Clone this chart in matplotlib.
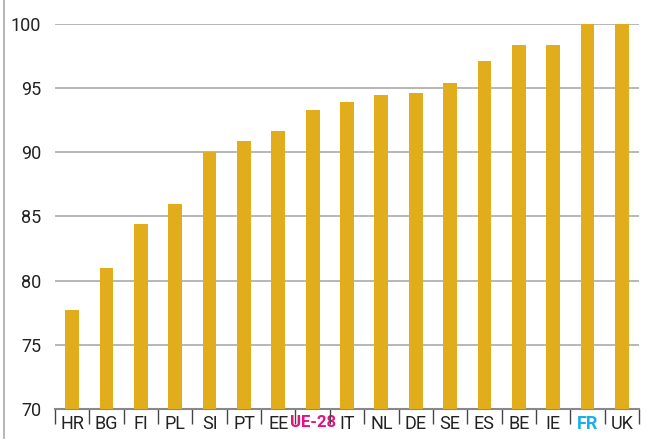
import matplotlib.pyplot as plt
from matplotlib.lines import Line2D

plt.rcParams['font.family'] = ['Roboto', 'DejaVu Sans']

pays = ['HR', 'BG', 'FI', 'PL', 'SI', 'PT', 'EE', 'UE-28', 'IT', 'NL', 'DE',
        'SE', 'ES', 'BE', 'IE', 'FR', 'UK']
valeurs = [77.7, 81.0, 84.4, 86.0, 90.0, 90.9, 91.7, 93.3, 93.9, 94.5, 94.6,
           95.4, 97.1, 98.4, 98.4, 100, 100]
y_ticks = [70, 75, 80, 85, 90, 95, 100]

fig = plt.figure(figsize=(6.52, 4.41), dpi=100)
ax = fig.add_axes([0.0844, 0.0726, 0.8956, 0.873])

x = list(range(len(pays)))
ax.bar(x, valeurs, width=0.4, color='#E2AD1D', zorder=3)

ax.set_xlim(-0.5, len(pays) - 0.5)
ax.set_ylim(70, 100)
ax.set_yticks(y_ticks)
ax.tick_params(axis='y', length=0, labelsize=13, labelcolor='#222222', pad=10)
ax.yaxis.grid(True, color='#AAAAAA', linewidth=1.2, zorder=0)

ax.set_xticks(x)
ax.set_xticklabels(pays)
ax.set_xticks([i - 0.5 for i in range(len(pays) + 1)], minor=True)
ax.tick_params(axis='x', which='major', length=0, labelsize=13,
               labelcolor='#222222', pad=4)
ax.tick_params(axis='x', which='minor', length=11, width=1, color='#444444')

for lab in ax.get_xticklabels():
    if lab.get_text() == 'UE-28':
        lab.set_color('#E5127F')
        lab.set_fontweight('bold')
        lab.set_fontsize(12)
    elif lab.get_text() == 'FR':
        lab.set_color('#1BAEE8')
        lab.set_fontweight('bold')

for s in ['top', 'right', 'left']:
    ax.spines[s].set_visible(False)
ax.spines['bottom'].set_color('#888888')
ax.spines['bottom'].set_linewidth(1.5)

fig.add_artist(Line2D([4 / 652, 4 / 652], [0.007, 1.0], color='#AAAAAA',
                      linewidth=1.2, transform=fig.transFigure))

fig.savefig('out.png', dpi=100)
